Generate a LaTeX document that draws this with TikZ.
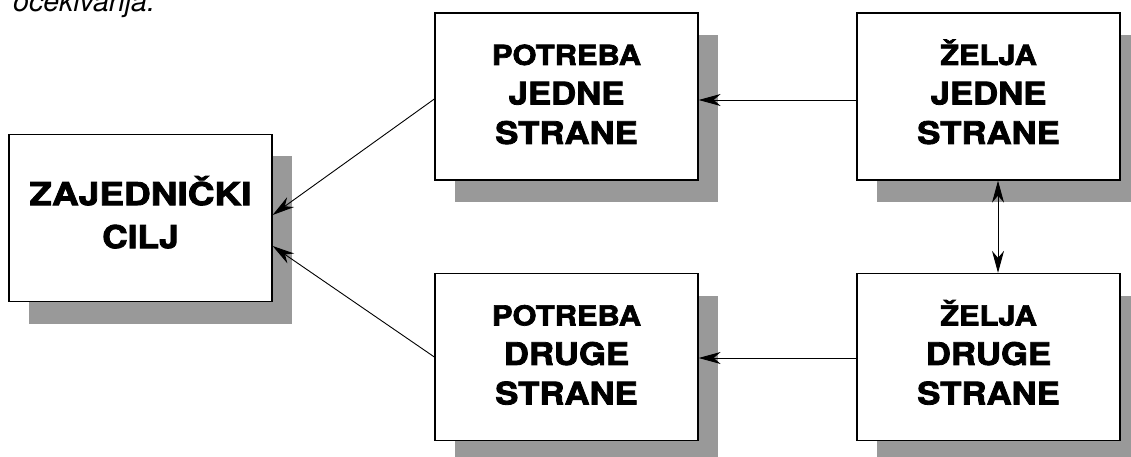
\documentclass[tikz,border=0pt]{standalone}
\usepackage{fontspec}
\usepackage{graphicx}
\setmainfont{TeX Gyre Heros}[FakeStretch=1.12, BoldFeatures={FakeBold=2.6}]
\newfontfamily\notefont{TeX Gyre Heros}
\usetikzlibrary{shadows,arrows.meta}
\definecolor{shadowgray}{RGB}{153,153,153}
\tikzset{
  card/.style={draw=black, line width=1.3pt, fill=white,
    minimum width=263pt, minimum height=167pt, inner sep=0pt,
    font=\bfseries\fontsize{31}{39.5}\selectfont,
    drop shadow={shadow xshift=20pt, shadow yshift=-22pt,
      fill=shadowgray, opacity=1}},
  tip/.tip={Stealth[length=22pt,width=12pt,inset=7pt]},
  link/.style={line width=0.9pt, -tip},
  twoway/.style={line width=0.9pt, tip-tip},
}
% three centred lines: a smaller first line, two larger ones
\newcommand\cardtext[3]{\begin{tabular}{@{}c@{}}{\fontsize{27.5}{39.5}\selectfont #1}\\#2\\#3\end{tabular}}
\begin{document}
\begin{tikzpicture}[x=1pt,y=-1pt]
\useasboundingbox (0,0) rectangle (1131,457);

% caption line running off the top edge
\node[anchor=base west, inner sep=0pt,
  font=\notefont\itshape\fontsize{28.5}{34}\selectfont] (note) at (13,11.5) {očekivanja.};

% boxes
\node[card, font=\bfseries\fontsize{31.5}{43}\selectfont] (goal) at (140.5,218)
  {\begin{tabular}{@{}c@{}}\scalebox{1.05}[1]{ZAJEDNIČKI}\\CILJ\end{tabular}};
\node[card] (needA) at (566.5,96.5) {\cardtext{POTREBA}{JEDNE}{STRANE}};
\node[card] (wantA) at (988.5,96.5) {\cardtext{ŽELJA}{JEDNE}{STRANE}};
\node[card] (needB) at (566.5,357) {\cardtext{POTREBA}{DRUGE}{STRANE}};
\node[card] (wantB) at (988.5,357) {\cardtext{ŽELJA}{DRUGE}{STRANE}};

% connectors
\draw[link] ([yshift=-3.5pt]wantA.west) -- ([yshift=-3.5pt]needA.east);
\draw[link] ([yshift=-1pt]wantB.west) -- ([yshift=-1pt]needB.east);
\draw[twoway] ([xshift=9.5pt]wantA.south) -- ([xshift=9.5pt]wantB.north);
\draw[link] ([yshift=-2.5pt]needA.west) -- ([yshift=3pt]goal.east);
\draw[link] (needB.west) -- ([yshift=-28pt]goal.east);
\end{tikzpicture}
\end{document}
